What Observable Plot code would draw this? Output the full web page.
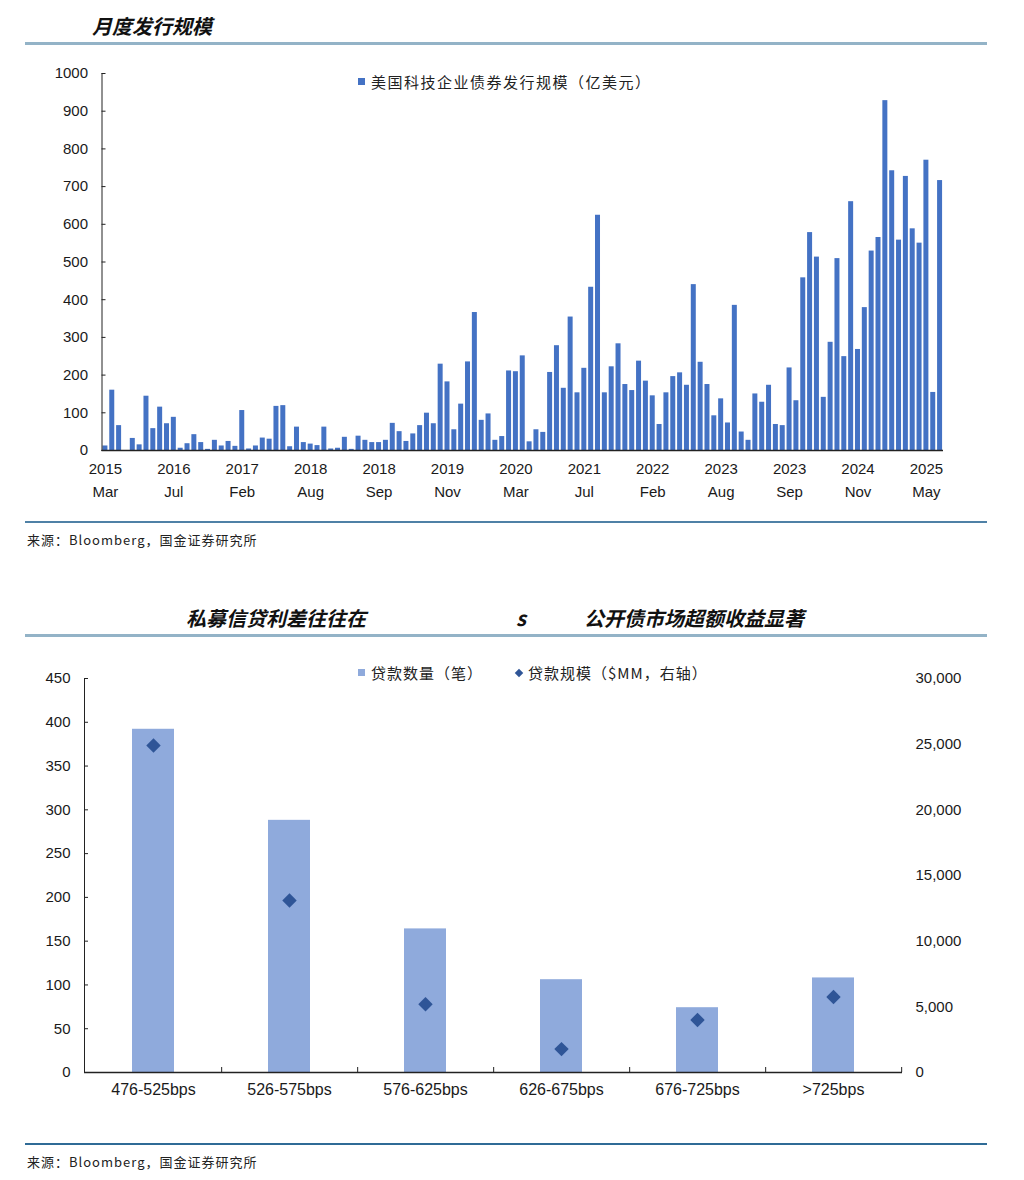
<!DOCTYPE html>
<html>
<head>
<meta charset="utf-8">
<script src="https://cdn.jsdelivr.net/npm/d3@7"></script>
<script src="https://cdn.jsdelivr.net/npm/@observablehq/plot@0.6"></script>
<style>
  body { margin: 0; background: #fff; }
  #page { position: relative; width: 1024px; height: 1180px; overflow: hidden; font-family: "Noto Sans CJK SC", sans-serif; color: #1a1a1a; }
  .title { position: absolute; font-weight: bold; font-style: italic; font-size: 20px; line-height: 20px; color: #111; white-space: nowrap; }
  .hline { position: absolute; left: 25px; width: 962px; }
  .src { position: absolute; left: 27px; font-size: 13px; line-height: 13px; letter-spacing: 1px; color: #222; white-space: nowrap; }
  .legend { position: absolute; font-size: 15px; line-height: 15px; letter-spacing: 1.5px; color: #222; white-space: nowrap; display: flex; align-items: center; }
  .chart { position: absolute; left: 0; }
  .sq { display: inline-block; width: 7px; height: 7px; margin-right: 6px; }
  .dm { display: inline-block; width: 6px; height: 6px; transform: rotate(45deg); margin-right: 6px; }
</style>
</head>
<body>
<div id="page">
  <div class="title" style="left:92px;top:16px;">月度发行规模</div>
  <div class="hline" style="top:42px;height:3px;background:#93B3C7;"></div>
  <div id="c1" class="chart" style="top:55px;"></div>
  <div class="legend" style="left:358px;top:74px;"><span class="sq" style="background:#4472C4;"></span>美国科技企业债券发行规模（亿美元）</div>
  <div class="hline" style="top:521px;height:1.5px;background:#4F81A6;"></div>
  <div class="src" style="top:533px;">来源：Bloomberg，国金证券研究所</div>

  <div class="title" style="left:186px;top:608px;">私募信贷利差往往在</div>
  <div class="title" style="left:516px;top:608px;">s</div>
  <div class="title" style="left:584px;top:608px;">公开债市场超额收益显著</div>
  <div class="hline" style="top:634px;height:3px;background:#93B3C7;"></div>
  <div id="c2" class="chart" style="top:650px;"></div>
  <div class="legend" style="left:358px;top:665px;letter-spacing:1px;">
    <span class="sq" style="background:#8FAADC;"></span>贷款数量（笔）
    <span style="display:inline-block;width:33px;"></span>
    <span class="dm" style="background:#2F5597;"></span>贷款规模（$MM，右轴）
  </div>
  <div class="hline" style="top:1143px;height:1.5px;background:#2F6B96;"></div>
  <div class="src" style="top:1155px;">来源：Bloomberg，国金证券研究所</div>
</div>
<script>
// ---------- Chart 1 data: monthly issuance (亿美元) ----------
const issuance = [
  12, 160, 66, 0, 32, 15, 144, 58, 115, 71,
  88, 6, 18, 42, 21, 3, 27, 12, 24, 11,
  106, 4, 12, 33, 30, 117, 119, 10, 62, 21,
  17, 13, 62, 4, 6, 35, 3, 38, 27, 21,
  21, 27, 72, 50, 24, 44, 66, 99, 71, 229,
  182, 55, 123, 235, 366, 80, 97, 27, 37, 211,
  209, 251, 23, 55, 48, 207, 278, 165, 354, 153,
  218, 433, 624, 153, 222, 283, 175, 159, 237, 184,
  145, 69, 153, 196, 206, 173, 440, 234, 175, 92,
  137, 73, 385, 49, 27, 150, 128, 173, 69, 66,
  219, 132, 458, 578, 513, 141, 287, 509, 249, 660,
  268, 379, 529, 565, 928, 742, 558, 727, 588, 550,
  770, 154, 716
];
const periods = issuance.map((_, i) => i);
const tickPeriods = [0, 10, 20, 30, 40, 50, 60, 70, 80, 90, 100, 110, 120];
const tickLabels = ["2015\nMar", "2016\nJul", "2017\nFeb", "2018\nAug", "2018\nSep", "2019\nNov",
  "2020\nMar", "2021\nJul", "2022\nFeb", "2023\nAug", "2023\nSep", "2024\nNov", "2025\nMay"];
const yTicks1 = [0, 100, 200, 300, 400, 500, 600, 700, 800, 900, 1000];

// ---------- Chart 2 data ----------
const buckets = ["476-525bps", "526-575bps", "576-625bps", "626-675bps", "676-725bps", ">725bps"];
const loanCount = [392, 288, 164, 106, 74, 108];
const loanSize = [24900, 13100, 5200, 1780, 4000, 5750];
const leftTicks = [0, 50, 100, 150, 200, 250, 300, 350, 400, 450];
const rightTicks = [0, 5000, 10000, 15000, 20000, 25000, 30000];

const font = '"Liberation Sans", Arial, sans-serif';

const data1 = periods.map(i => ({i, v: issuance[i]}));
const c1 = Plot.plot({
  width: 1024, height: 455,
  marginTop: 18, marginBottom: 60, marginLeft: 101.5, marginRight: 81,
  style: {fontFamily: font, fontSize: "15px", color: "#1a1a1a", background: "transparent", overflow: "visible"},
  x: {type: "band", domain: periods, paddingInner: 0.27, paddingOuter: 0.135, axis: null, label: null},
  y: {domain: [0, 1000], axis: null, label: null},
  marks: [
    Plot.barY(data1, {x: "i", y: "v", fill: "#4472C4"}),
    Plot.axisY({ticks: yTicks1, tickSize: 0, tickPadding: 14, tickFormat: d => String(d), label: null}),
    Plot.axisY({ticks: yTicks1, tickSize: -4, fill: "none", stroke: "#222", label: null}),
    Plot.axisX({ticks: tickPeriods, tickSize: 0, tickPadding: 7, lineHeight: 1.53,
      tickFormat: d => tickLabels[tickPeriods.indexOf(d)], label: null}),
    Plot.ruleY([0], {stroke: "#222", strokeWidth: 1.5}),
    Plot.frame({anchor: "left", stroke: "#222"})
  ]
});
document.getElementById("c1").appendChild(c1);

const data2 = buckets.map((b, k) => ({bucket: b, count: loanCount[k], size: loanSize[k]}));
const ratio = 450 / 30000;
const innerW2 = 1024 - 84 - 122;
const step2 = innerW2 / buckets.length;
const c2 = Plot.plot({
  width: 1024, height: 462,
  marginTop: 28, marginBottom: 40, marginLeft: 84, marginRight: 122,
  style: {fontFamily: font, fontSize: "15px", color: "#1a1a1a", background: "transparent", overflow: "visible"},
  x: {type: "band", domain: buckets, paddingInner: 0.69, paddingOuter: 0.345, axis: null, label: null},
  y: {domain: [0, 450], axis: null, label: null},
  marks: [
    Plot.barY(data2, {x: "bucket", y: "count", fill: "#8FAADC"}),
    Plot.dot(data2, {x: "bucket", y: d => d.size * ratio, symbol: "diamond2", r: 6.5, fill: "#2F5597", stroke: "none"}),
    Plot.axisY({ticks: leftTicks, tickSize: 0, tickPadding: 14, tickFormat: d => String(d), label: null}),
    Plot.axisY({ticks: leftTicks, tickSize: -4, fill: "none", stroke: "#222", label: null}),
    Plot.axisY({anchor: "right", ticks: rightTicks.map(t => t * ratio), tickSize: 0, tickPadding: 13,
      tickFormat: d => d3.format(",")(Math.round(d / ratio)), label: null}),
    Plot.axisX({tickSize: 0, tickPadding: 11, fontSize: 16, label: null}),
    Plot.axisX({tickSize: -5, fill: "none", stroke: "#222", dx: step2 / 2, label: null}),
    Plot.ruleY([0], {stroke: "#222", strokeWidth: 1.5}),
    Plot.frame({anchor: "left", stroke: "#222"})
  ]
});
document.getElementById("c2").appendChild(c2);
</script>
</body>
</html>
